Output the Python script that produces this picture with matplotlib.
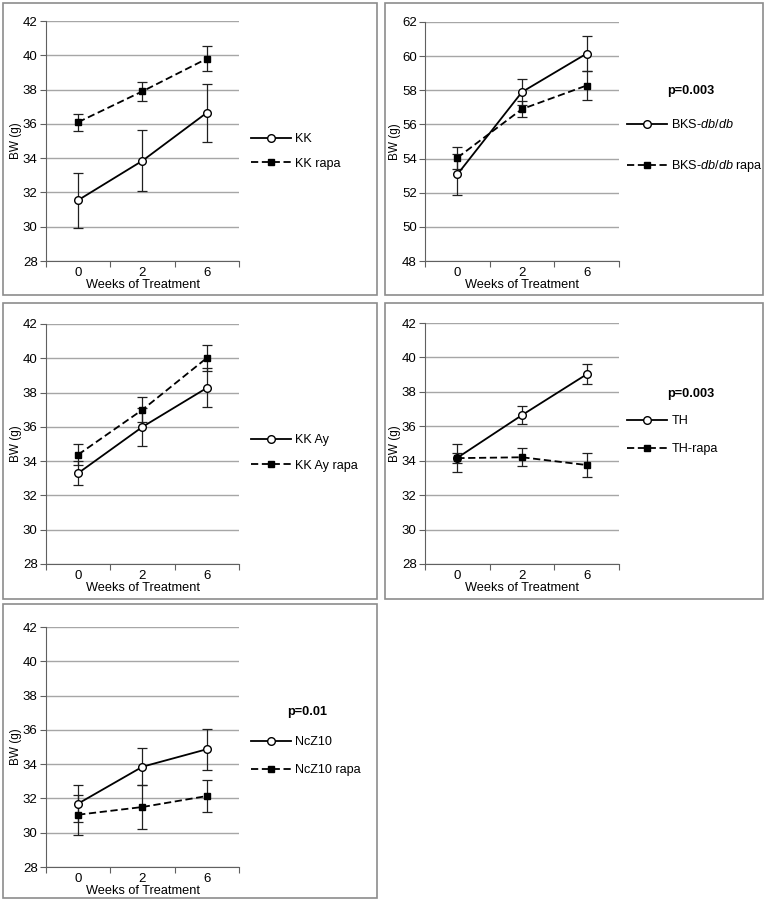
import matplotlib
matplotlib.use("Agg")
import matplotlib.pyplot as plt
from matplotlib.patches import Rectangle
import numpy as np

plt.rcParams['font.family'] = ['Liberation Sans', 'DejaVu Sans']
plt.rcParams['mathtext.fontset'] = 'custom'
plt.rcParams['mathtext.it'] = 'Liberation Sans:italic'
plt.rcParams['mathtext.rm'] = 'Liberation Sans'

W, H = 764, 901

weeks = ["0", "2", "6"]

# KK
kk = [31.55, 33.85, 36.65]
kk_err = [1.6, 1.78, 1.7]
kk_rapa = [36.1, 37.9, 39.8]
kk_rapa_err = [0.5, 0.57, 0.72]

# BKS-db/db
bks = [53.07, 57.9, 60.15]
bks_err = [1.2, 0.74, 1.02]
bks_rapa = [54.05, 56.9, 58.28]
bks_rapa_err = [0.65, 0.48, 0.84]

# KK Ay
kkay = [33.3, 36.0, 38.27]
kkay_err = [0.72, 1.1, 1.14]
kkay_rapa = [34.38, 37.0, 40.02]
kkay_rapa_err = [0.62, 0.72, 0.78]

# TH
th = [34.17, 36.65, 39.02]
th_err = [0.83, 0.53, 0.58]
th_rapa = [34.15, 34.2, 33.75]
th_rapa_err = [0.3, 0.52, 0.68]

# NcZ10
ncz = [31.7, 33.85, 34.87]
ncz_err = [1.1, 1.08, 1.2]
ncz_rapa = [31.05, 31.5, 32.14]
ncz_rapa_err = [1.17, 1.28, 0.92]

panels = [
    dict(a=kk, ae=kk_err, b=kk_rapa, be=kk_rapa_err, lab=["KK", "KK rapa"],
         border=(3, 3, 377, 295), ax=(46, 21, 239, 261), ylim=(28, 42), p=None,
         leg=(251, 137), gap=1.0),
    dict(a=bks, ae=bks_err, b=bks_rapa, be=bks_rapa_err,
         lab=["BKS-$\\it{db/db}$", "BKS-$\\it{db/db}$ rapa"],
         border=(385, 3, 763, 295), ax=(425, 22, 619, 261), ylim=(48, 62), p="p=0.003",
         pxy=(667, 91), leg=(627, 122), gap=2.15),
    dict(a=kkay, ae=kkay_err, b=kkay_rapa, be=kkay_rapa_err, lab=["KK Ay", "KK Ay rapa"],
         border=(3, 303, 377, 599), ax=(46, 324, 239, 564), ylim=(28, 42), p=None,
         leg=(251, 438), gap=1.1),
    dict(a=th, ae=th_err, b=th_rapa, be=th_rapa_err, lab=["TH", "TH-rapa"],
         border=(385, 303, 763, 599), ax=(425, 323, 619, 564), ylim=(28, 42), p="p=0.003",
         pxy=(667, 394), leg=(627, 419), gap=1.3),
    dict(a=ncz, ae=ncz_err, b=ncz_rapa, be=ncz_rapa_err, lab=["NcZ10", "NcZ10 rapa"],
         border=(3, 604, 377, 898), ax=(46, 627, 239, 867), ylim=(28, 42), p="p=0.01",
         pxy=(287, 712), leg=(251, 740), gap=1.3),
]

fig = plt.figure(figsize=(W / 100, H / 100), dpi=100)

x = np.arange(len(weeks)) + 0.5

for pn in panels:
    bx0, by0, bx1, by1 = pn['border']
    fig.add_artist(Rectangle((bx0 / W, 1 - by1 / H), (bx1 - bx0) / W, (by1 - by0) / H,
                             transform=fig.transFigure, fill=False, ec='#8c8c8c', lw=1.2))
    ax0, ay0, ax1, ay1 = pn['ax']
    ax = fig.add_axes([ax0 / W, 1 - ay1 / H, (ax1 - ax0) / W, (ay1 - ay0) / H])
    # error bars first, then lines with markers on top
    ax.errorbar(x, pn['a'], yerr=pn['ae'], fmt='none', ecolor='#202020', elinewidth=0.9,
                capsize=3.5, capthick=0.9, zorder=2)
    ax.errorbar(x, pn['b'], yerr=pn['be'], fmt='none', ecolor='#202020', elinewidth=0.9,
                capsize=3.5, capthick=0.9, zorder=2)
    ax.plot(x, pn['a'], color='black', lw=1.3, marker='o', ms=5.5, mfc='white',
            mec='black', mew=1.0, label=pn['lab'][0], zorder=3)
    ax.plot(x, pn['b'], color='black', lw=1.3, ls=(0, (4, 2)), marker='s', ms=5,
            mfc='black', mec='black', label=pn['lab'][1], zorder=3)
    lo, hi = pn['ylim']
    ax.set_ylim(lo, hi)
    ax.set_xlim(0, 3)
    ax.set_yticks(np.arange(lo, hi + 1, 2))
    ax.yaxis.grid(True, color='#a6a6a6', lw=1.0)
    ax.set_axisbelow(True)
    ax.set_xticks([0, 1, 2, 3])
    ax.set_xticklabels([])
    ax.set_xticks(x, minor=True)
    ax.set_xticklabels(weeks, minor=True)
    ax.tick_params(axis='x', which='minor', length=0, pad=4, labelsize=9.5)
    ax.tick_params(axis='x', which='major', length=4, color='#606060')
    ax.tick_params(axis='y', length=4, color='#606060', labelsize=9.5, pad=2)
    for s in ['top', 'right']:
        ax.spines[s].set_visible(False)
    for s in ['left', 'bottom']:
        ax.spines[s].set_color('#606060')
    ax.set_ylabel("BW (g)", fontsize=8.5, labelpad=1)
    ax.set_xlabel("Weeks of Treatment", fontsize=9.2, labelpad=0)
    lx, ly = pn['leg']
    ax.legend(loc='upper left', bbox_to_anchor=(lx / W, 1 - (ly - 4) / H),
              bbox_transform=fig.transFigure, frameon=False, fontsize=9.1,
              handlelength=3.2, handletextpad=0.3, labelspacing=pn['gap'],
              borderpad=0, borderaxespad=0)
    if pn['p']:
        px, py = pn['pxy']
        fig.text(px / W, 1 - py / H, pn['p'], fontsize=9.2, fontweight='bold',
                 ha='left', va='center')

fig.savefig("out.png", dpi=100)
